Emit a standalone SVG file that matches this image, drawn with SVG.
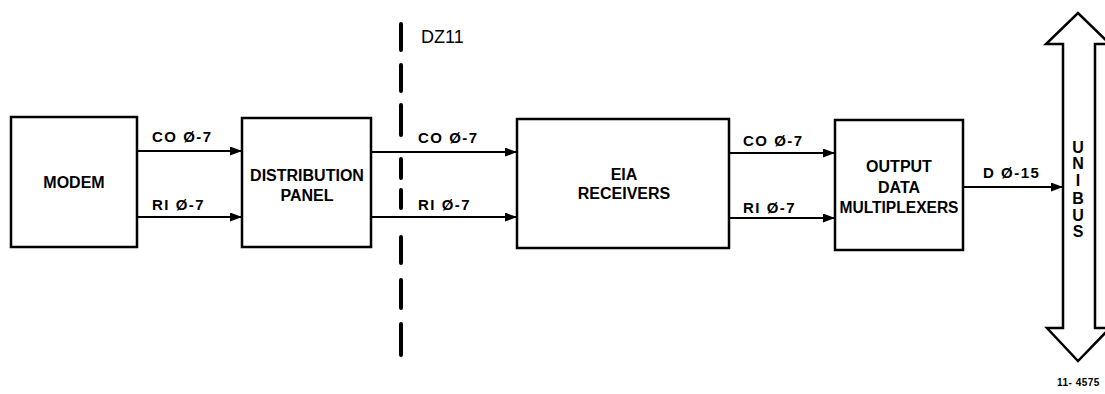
<svg xmlns="http://www.w3.org/2000/svg" width="1105" height="394" viewBox="0 0 1105 394">
<style>
.box{fill:#fff;stroke:#000;stroke-width:2.5}
.t{font-family:"Liberation Sans",Arial,sans-serif;font-weight:bold;font-size:16px;fill:#000}
.c{text-anchor:middle}
.v{font-size:16px}
.lbl{font-family:"Liberation Sans",Arial,sans-serif;font-weight:bold;font-size:15px;fill:#000;letter-spacing:1.5px}
.ln{stroke:#000;stroke-width:2;fill:none;marker-end:url(#ah)}
</style>
<defs>
<marker id="ah" markerWidth="12" markerHeight="9" refX="12" refY="4.5" orient="auto" markerUnits="userSpaceOnUse">
<path d="M0,0 L12,4.5 L0,9 Z" fill="#000"/>
</marker>
</defs>
<rect width="1105" height="394" fill="#fff"/>

<g id="boundary">
<path d="M401,24 V50 M401,65 V91 M401,105 V135 M401,159 V178 M401,190 V208 M401,237 V263 M401,280 V308 M401,324 V355" stroke="#000" stroke-width="4" stroke-linecap="round" fill="none"/>
<text class="t" x="421" y="43" style="font-size:18px;font-weight:normal">DZ11</text>
</g>

<g id="modem">
<rect class="box" x="11" y="117" width="126" height="130"/>
<text class="t c" x="74" y="188">MODEM</text>
</g>

<g id="distribution-panel">
<rect class="box" x="242" y="118" width="129" height="129"/>
<text class="t c" x="307" y="181">DISTRIBUTION</text>
<text class="t c" x="307" y="201">PANEL</text>
</g>

<g id="eia-receivers">
<rect class="box" x="517" y="119" width="212" height="129"/>
<text class="t c" x="624" y="180">EIA</text>
<text class="t c" x="624" y="199">RECEIVERS</text>
</g>

<g id="output-mux">
<rect class="box" x="835" y="120" width="128" height="130"/>
<text class="t c" x="899" y="172">OUTPUT</text>
<text class="t c" x="899" y="193">DATA</text>
<text class="t c" x="899" y="213" textLength="119" lengthAdjust="spacingAndGlyphs">MULTIPLEXERS</text>
</g>

<g id="unibus">
<polygon points="1063,328 1047,328 1078,361 1110,328 1095,328 1095,44 1110,44 1078,13 1046,44 1063,44" fill="#fff" stroke="#000" stroke-width="2.5"/>
<text class="t c v" x="1078" y="153">U</text>
<text class="t c v" x="1078" y="169">N</text>
<text class="t c v" x="1078" y="186">I</text>
<text class="t c v" x="1078" y="204">B</text>
<text class="t c v" x="1078" y="221">U</text>
<text class="t c v" x="1078" y="237">S</text>
</g>

<g id="connectors">
<line class="ln" x1="137" y1="151" x2="242" y2="151"/>
<line class="ln" x1="137" y1="217" x2="242" y2="217"/>
<line class="ln" x1="371" y1="152" x2="517" y2="152"/>
<line class="ln" x1="371" y1="217" x2="517" y2="217"/>
<line class="ln" x1="729" y1="153" x2="835" y2="153"/>
<line class="ln" x1="729" y1="218" x2="835" y2="218"/>
<line class="ln" x1="963" y1="187" x2="1063" y2="187"/>
<text class="lbl" x="152" y="142">CO Ø-7</text>
<text class="lbl" x="152" y="210">RI Ø-7</text>
<text class="lbl" x="418" y="143">CO Ø-7</text>
<text class="lbl" x="418" y="210">RI Ø-7</text>
<text class="lbl" x="743" y="146">CO Ø-7</text>
<text class="lbl" x="743" y="213">RI Ø-7</text>
<text class="lbl" x="983" y="178">D Ø-15</text>
</g>

<text class="t" x="1057" y="386" style="font-size:10px;letter-spacing:0.5px">11- 4575</text>
</svg>
